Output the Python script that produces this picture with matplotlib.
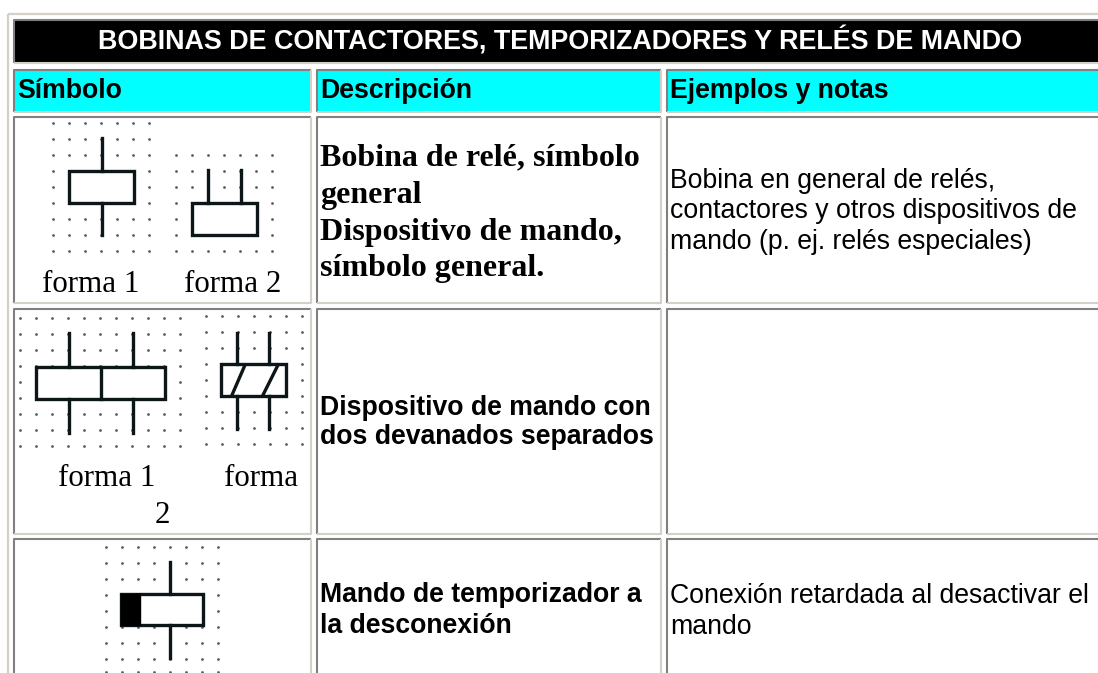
import matplotlib
matplotlib.use("Agg")
import matplotlib.pyplot as plt
from matplotlib.patches import Rectangle

title = "BOBINAS DE CONTACTORES, TEMPORIZADORES Y RELÉS DE MANDO"
headers = ["Símbolo", "Descripción", "Ejemplos y notas"]
desc_1 = ["Bobina de relé, símbolo", "general", "Dispositivo de mando,", "símbolo general."]
desc_1_y = [165, 203, 240, 276]
desc_2 = ["Dispositivo de mando con", "dos devanados separados"]
desc_2_y = [415, 444]
desc_3 = ["Mando de temporizador a", "la desconexión"]
desc_3_y = [602, 633]
notes_1 = ["Bobina en general de relés,", "contactores y otros dispositivos de", "mando (p. ej. relés especiales)"]
notes_1_y = [188, 218, 249]
notes_3 = ["Conexión retardada al desactivar el", "mando"]
notes_3_y = [603, 634]

# cell boxes in screen pixels: left, top, right, bottom
col_x = [(14, 311), (317, 661), (667, 1110)]
row_y = [(70, 112), (117, 303), (309, 534), (539, 690)]
title_box = (14, 20, 1110, 63)

# dot grids behind the symbols
grid_1 = ([53, 69, 85, 101, 117, 133, 149], [123, 139, 155, 171, 187, 203, 219, 235, 251])
grid_2 = ([176, 192, 208, 224, 240, 256, 272], [155, 171, 187, 203, 219, 235, 251])
grid_3 = ([20, 36, 52, 68, 84, 100, 116, 132, 148, 164, 180], [318, 334, 350, 366, 382, 398, 414, 430, 446])
grid_4 = ([206, 222, 238, 254, 270, 286, 302], [316, 332, 348, 364, 380, 396, 412, 428, 444])
grid_5 = ([106, 122, 138, 154, 170, 186, 202, 218], [547, 563, 579, 595, 611, 627, 643, 659, 672])

# rectangles: x0, y0, x1, y1
coils = [(69, 171, 134, 203), (192, 203, 257, 235), (36, 367, 165, 399), (221, 364, 286, 396), (121, 594, 203, 625)]
# wires: x0, y0, x1, y1
wires = [(102, 138, 102, 171), (102, 203, 102, 235), (208, 170, 208, 203), (241, 170, 241, 203),
         (69, 333, 69, 367), (69, 399, 69, 433), (133, 333, 133, 367), (133, 399, 133, 433),
         (101, 367, 101, 399), (237, 333, 237, 364), (237, 396, 237, 429), (269, 333, 269, 364),
         (269, 396, 269, 429), (232, 395, 245, 365), (263, 395, 278, 365),
         (170, 562, 170, 594), (170, 625, 170, 658)]
shaded = (121, 594, 140, 625)
forma_labels = [("forma 1", 90.5, 292), ("forma 2", 233, 292), ("forma 1", 107, 486), ("forma", 261, 486), ("2", 162, 523)]

GREY = "#808080"
LIGHT = "#d4d0c8"
SANS = "Liberation Sans"
SERIF = "Liberation Serif"

fig = plt.figure(figsize=(10.98, 6.73), dpi=100)
ax = fig.add_axes([0, 0, 1, 1])
ax.set_xlim(0, 1098)
ax.set_ylim(673, 0)
ax.axis("off")


def cell(x0, y0, x1, y1, face="white"):
    # inset look: dark top and left, light bottom and right
    ax.add_patch(Rectangle((x0, y0), x1 - x0, y1 - y0, fc=face, ec="none", zorder=1))
    ax.plot([x0, x0, x1], [y1, y0, y0], color=GREY, lw=1.5, zorder=2, solid_capstyle="butt")
    ax.plot([x0, x1, x1], [y1, y1, y0], color=LIGHT, lw=1.5, zorder=2, solid_capstyle="butt")


# outer table border
ax.plot([8, 8], [14, 673], color=LIGHT, lw=1.6, solid_capstyle="butt")
ax.plot([8, 1098], [14, 14], color=LIGHT, lw=1.6, solid_capstyle="butt")

cell(*title_box, face="black")
ax.text(560, 50, title, color="white", family=SANS, weight="bold", fontsize=19.4, ha="center", va="baseline", zorder=3)

for (x0, x1), head in zip(col_x, headers):
    cell(x0, row_y[0][0], x1, row_y[0][1], face="#00ffff")
    ax.text(x0 + 3, 98, head, family=SANS, weight="bold", fontsize=19.2, va="baseline", zorder=3)
for y0, y1 in row_y[1:]:
    for x0, x1 in col_x:
        cell(x0, y0, x1, y1)

for xs, ys in [grid_1, grid_2, grid_3, grid_4, grid_5]:
    px = [x for x in xs for y in ys]
    py = [y for x in xs for y in ys]
    ax.scatter(px, py, s=4, color="#50606a", linewidths=0, zorder=3)

for x0, y0, x1, y1 in coils:
    ax.add_patch(Rectangle((x0, y0), x1 - x0, y1 - y0, fc="white", ec="#0c1518", lw=2.4, zorder=4))
for x0, y0, x1, y1 in wires:
    ax.plot([x0, x1], [y0, y1], color="#0c1518", lw=2.4, zorder=5)
ax.add_patch(Rectangle((shaded[0], shaded[1]), shaded[2] - shaded[0], shaded[3] - shaded[1], fc="black", ec="black", zorder=5))

for label, x, y in forma_labels:
    ax.text(x, y, label, family=SERIF, fontsize=22.3, ha="center", va="baseline", zorder=6)

for line, y in zip(desc_1, desc_1_y):
    ax.text(320, y, line, family=SERIF, weight="bold", fontsize=23, va="baseline", zorder=6)
for line, y in zip(desc_2 + desc_3, desc_2_y + desc_3_y):
    ax.text(320, y, line, family=SANS, weight="bold", fontsize=19.2, va="baseline", zorder=6)
for line, y in zip(notes_1 + notes_3, notes_1_y + notes_3_y):
    ax.text(670, y, line, family=SANS, fontsize=19.2, va="baseline", zorder=6)

fig.savefig("out.png", dpi=100)
